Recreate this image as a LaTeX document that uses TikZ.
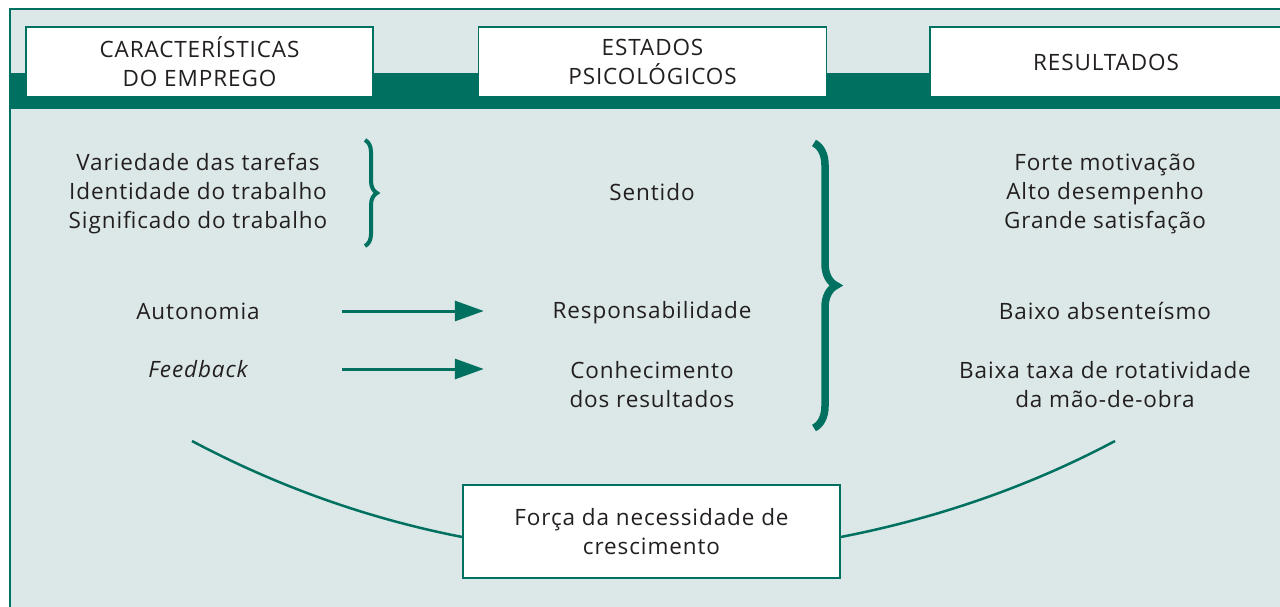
\documentclass[tikz,border=0pt]{standalone}
\usepackage{fontspec}
\setmainfont{Open Sans}[LetterSpace=4]
\usepackage{tikz}
\usetikzlibrary{calc,arrows.meta,decorations.pathreplacing}
\definecolor{jobgreen}{RGB}{0,112,96}
\definecolor{jobbg}{RGB}{219,232,231}
\definecolor{jobtext}{RGB}{35,31,32}
\tikzset{
  headbox/.style={draw=jobgreen,line width=1.5pt,fill=white,minimum height=70pt,align=center,text=jobtext},
  txt/.style={align=center,text=jobtext,inner sep=0pt},
  flow/.style={color=jobgreen,line width=3pt,-{Triangle[length=29pt,width=20pt]}},
  sweep/.style={color=jobgreen,line width=2.5pt}
}
\def\drawcurl{\draw[color=jobgreen,decorate,decoration={brace,amplitude=\curlamp}]}
\def\textnode{\node[txt]}

\begin{document}
\begin{tikzpicture}[x=1pt,y=1pt,font=\fontsize{22.5}{29}\selectfont]
\useasboundingbox (0,0) rectangle (1280,-607);
\clip (0,0) rectangle (1280,-607);
\fill[white] (0,0) rectangle (1280,-607);
\coordinate (topl) at (10,-9); % top left corner of the frame
\draw[jobgreen,line width=2pt,fill=jobbg] (topl) rectangle (1300,-640);
\fill[jobgreen] ($ (topl) + (0,-64) $) rectangle (1300,-109); % band behind the headers

% ---------- headers
\node[headbox,minimum width=347pt] (hchar) at (199.5,-62) {CARACTERÍSTICAS\\DO EMPREGO};
\node[headbox,minimum width=348pt] (hstate) at (652.5,-62) {ESTADOS\\PSICOLÓGICOS};
\node[headbox,minimum width=352pt] (hresult) at (1106,-62) {RESULTADOS};

% ---------- job characteristics
\textnode (tasks) at (198,-193.5) {Variedade das tarefas\\Identidade do trabalho\\Significado do trabalho};
\textnode[minimum width=288pt] (autonomy) at (198,-311) {Autonomia};
\textnode[minimum width=288pt] (feedback) at (198,-369) {\itshape Feedback};

% ---------- psychological states
\textnode (meaning) at (652,-192) {Sentido};
\textnode[minimum width=336pt] (respons) at (652,-313) {Responsabilidade};
\textnode[minimum width=336pt] (knowledge) at (652,-384.5) {Conhecimento\\dos resultados};

% ---------- outcomes
\textnode (motiv) at (1105,-193.5) {Forte motivação\\Alto desempenho\\Grande satisfação};
\textnode (absent) at (1105,-311) {Baixo absenteísmo};
\textnode (turnover) at (1105,-384.5) {Baixa taxa de rotatividade\\da mão-de-obra};

\draw[flow] (autonomy.east) -- (autonomy.east -| respons.west);
\draw[flow] (feedback.east) -- (feedback.east -| knowledge.west);

% braces
\def\curlamp{12pt}
\drawcurl[line width=4pt] (365,-140) -- (365,-246);
\def\curlamp{22pt}
\drawcurl[line width=7.5pt] (814,-143) -- (814,-428);

% ---------- growth need strength and its arc
\node[headbox,minimum width=377pt,minimum height=93pt] (growth) at (651.5,-531.5) {Força da necessidade de\\crescimento};
\coordinate (sweepL) at (192,-441);
\coordinate (sweepR) at (1115,-441);
\draw[sweep] (sweepL) to[out=-28,in=169,looseness=0.86] ([yshift=-5.5pt]growth.west);
\draw[sweep] ([yshift=-5.5pt]growth.east) to[out=11,in=208,looseness=0.86] (sweepR);
\end{tikzpicture}
\end{document}
